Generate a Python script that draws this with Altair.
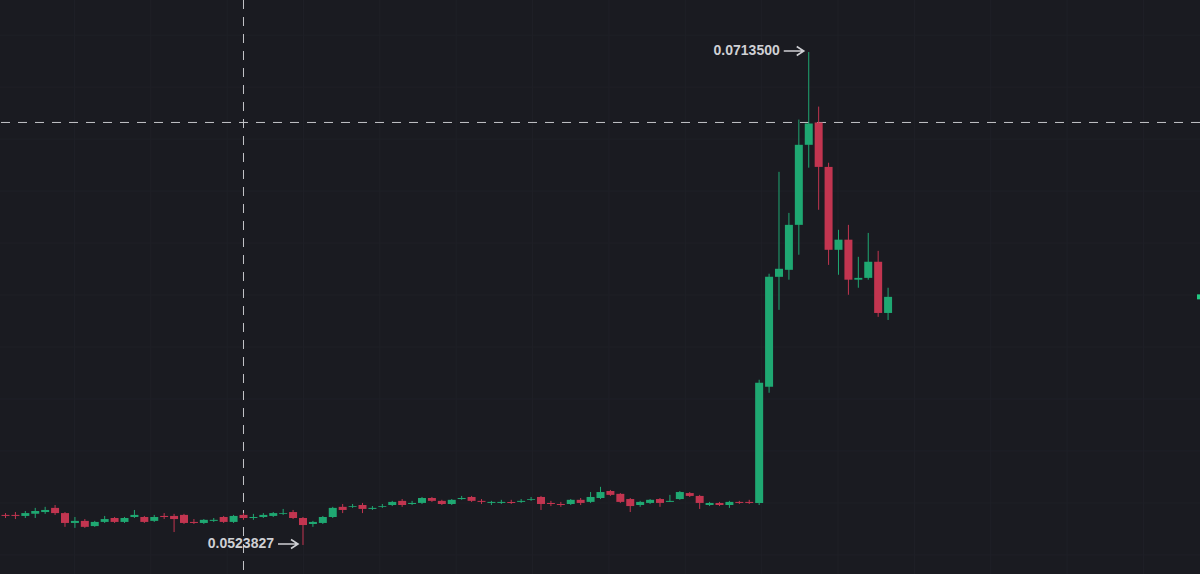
import altair as alt
import pandas as pd

# Candle OHLC series (one candle per period, oldest first)
opens = [
    0.05354, 0.05354, 0.05350, 0.05358, 0.05365, 0.05381, 0.05361, 0.05323, 0.05331, 0.05311,
    0.05327, 0.05342, 0.05327, 0.05346, 0.05346, 0.05331, 0.05350, 0.05350, 0.05354, 0.05327,
    0.05323, 0.05331, 0.05346, 0.05327, 0.05354, 0.05342, 0.05346, 0.05350, 0.05358, 0.05365,
    0.05342, 0.05319, 0.05323, 0.05346, 0.05385, 0.05385, 0.05392, 0.05377, 0.05385, 0.05392,
    0.05408, 0.05396, 0.05400, 0.05419, 0.05408, 0.05396, 0.05415, 0.05423, 0.05408, 0.05400,
    0.05400, 0.05404, 0.05404, 0.05412, 0.05423, 0.05400, 0.05396, 0.05396, 0.05412, 0.05404,
    0.05419, 0.05446, 0.05435, 0.05415, 0.05392, 0.05400, 0.05415, 0.05404, 0.05415, 0.05438,
    0.05427, 0.05392, 0.05400, 0.05392, 0.05404, 0.05404, 0.05400, 0.05847, 0.06270, 0.06297,
    0.06470, 0.06778, 0.06864, 0.06693, 0.06374, 0.06413, 0.06259, 0.06266, 0.06328, 0.06131,
]
closes = [
    0.05350, 0.05350, 0.05361, 0.05369, 0.05373, 0.05361, 0.05323, 0.05331, 0.05308, 0.05327,
    0.05338, 0.05327, 0.05342, 0.05354, 0.05327, 0.05346, 0.05346, 0.05338, 0.05323, 0.05323,
    0.05335, 0.05335, 0.05327, 0.05350, 0.05342, 0.05346, 0.05354, 0.05361, 0.05361, 0.05342,
    0.05315, 0.05327, 0.05346, 0.05381, 0.05373, 0.05388, 0.05377, 0.05381, 0.05388, 0.05404,
    0.05392, 0.05400, 0.05419, 0.05408, 0.05396, 0.05412, 0.05419, 0.05408, 0.05404, 0.05404,
    0.05404, 0.05400, 0.05408, 0.05415, 0.05396, 0.05396, 0.05392, 0.05412, 0.05400, 0.05423,
    0.05442, 0.05431, 0.05404, 0.05388, 0.05404, 0.05412, 0.05400, 0.05408, 0.05442, 0.05427,
    0.05400, 0.05400, 0.05392, 0.05404, 0.05400, 0.05400, 0.05862, 0.06270, 0.06301, 0.06470,
    0.06778, 0.06860, 0.06693, 0.06374, 0.06413, 0.06259, 0.06266, 0.06328, 0.06131, 0.06193,
]
highs = [
    0.05361, 0.05365, 0.05369, 0.05381, 0.05385, 0.05392, 0.05365, 0.05346, 0.05338, 0.05331,
    0.05350, 0.05346, 0.05346, 0.05373, 0.05350, 0.05354, 0.05361, 0.05358, 0.05358, 0.05338,
    0.05338, 0.05342, 0.05350, 0.05354, 0.05361, 0.05358, 0.05361, 0.05365, 0.05377, 0.05373,
    0.05346, 0.05331, 0.05350, 0.05385, 0.05396, 0.05396, 0.05400, 0.05388, 0.05396, 0.05408,
    0.05415, 0.05408, 0.05423, 0.05423, 0.05412, 0.05415, 0.05427, 0.05427, 0.05415, 0.05408,
    0.05412, 0.05412, 0.05415, 0.05423, 0.05427, 0.05408, 0.05404, 0.05415, 0.05419, 0.05442,
    0.05462, 0.05450, 0.05438, 0.05419, 0.05408, 0.05415, 0.05419, 0.05431, 0.05446, 0.05442,
    0.05431, 0.05404, 0.05404, 0.05408, 0.05408, 0.05412, 0.05874, 0.06282, 0.06674, 0.06516,
    0.06875, 0.07135, 0.06925, 0.06709, 0.06451, 0.06470, 0.06347, 0.06439, 0.06370, 0.06228,
]
lows = [
    0.05342, 0.05338, 0.05342, 0.05342, 0.05358, 0.05354, 0.05308, 0.05304, 0.05304, 0.05308,
    0.05323, 0.05323, 0.05323, 0.05342, 0.05323, 0.05327, 0.05338, 0.05288, 0.05319, 0.05319,
    0.05319, 0.05327, 0.05323, 0.05323, 0.05335, 0.05335, 0.05342, 0.05346, 0.05354, 0.05338,
    0.0523827, 0.05308, 0.05319, 0.05342, 0.05361, 0.05381, 0.05361, 0.05373, 0.05381, 0.05388,
    0.05385, 0.05392, 0.05396, 0.05404, 0.05392, 0.05392, 0.05412, 0.05404, 0.05396, 0.05392,
    0.05396, 0.05396, 0.05400, 0.05408, 0.05373, 0.05388, 0.05385, 0.05392, 0.05392, 0.05400,
    0.05415, 0.05427, 0.05400, 0.05365, 0.05385, 0.05396, 0.05385, 0.05404, 0.05412, 0.05423,
    0.05377, 0.05388, 0.05388, 0.05381, 0.05396, 0.05396, 0.05392, 0.05824, 0.06143, 0.06259,
    0.06355, 0.06690, 0.06528, 0.06316, 0.06278, 0.06201, 0.06228, 0.06259, 0.06116, 0.06104,
]

# Price grid levels and time grid positions (in candle units)
price_grid = [0.052, 0.054, 0.056, 0.058, 0.060, 0.062, 0.064, 0.066, 0.068, 0.070, 0.072]
time_grid = [6.95, 14.65, 22.35, 30.05, 37.75, 45.45, 53.15, 60.85, 68.55, 76.25,
             83.95, 91.65, 99.35, 107.05, 114.75]

# Crosshair position: candle index and price level
cross_index = 24
cross_price = 0.06864

BG = "#1a1b21"
GRID = "#1f2027"
UP = "#22c983"
UP_WICK = "#1fa872"
DOWN = "#dc3a55"
DOWN_WICK = "#c23550"
LABEL = "#cfd0d4"

n = len(opens)
df = pd.DataFrame({
    "i": list(range(n)),
    "open": opens,
    "close": closes,
    "high": highs,
    "low": lows,
})
df["dir"] = ["up" if c >= o else "down" for o, c in zip(opens, closes)]

x_scale = alt.Scale(domain=[-0.05, 119.95], nice=False, zero=False)
y_scale = alt.Scale(domain=[0.051266, 0.073352], nice=False, zero=False)
body_color = alt.Color("dir:N", scale=alt.Scale(domain=["up", "down"], range=[UP, DOWN]), legend=None)
wick_color = alt.Color("dir:N", scale=alt.Scale(domain=["up", "down"], range=[UP_WICK, DOWN_WICK]), legend=None)

X = lambda f: alt.X(f, type="quantitative", scale=x_scale, axis=None)
Y = lambda f: alt.Y(f, type="quantitative", scale=y_scale, axis=None)

hgrid = alt.Chart(pd.DataFrame({"p": price_grid})).mark_rule(
    color=GRID, strokeWidth=1
).encode(y=Y("p"))

vgrid = alt.Chart(pd.DataFrame({"t": time_grid})).mark_rule(
    color=GRID, strokeWidth=1
).encode(x=X("t"))

base = alt.Chart(df)
wicks = base.mark_rule(strokeWidth=1).encode(
    x=X("i"), y=Y("low"), y2="high", color=wick_color
)
bodies = base.mark_bar(size=8).encode(
    x=X("i"), y=Y("open"), y2="close", color=body_color
)

cross_v = alt.Chart(pd.DataFrame({"t": [cross_index]})).mark_rule(
    color="#c4c5c9", strokeWidth=1, strokeDash=[9, 8]
).encode(x=X("t"))
cross_h = alt.Chart(pd.DataFrame({"p": [cross_price]})).mark_rule(
    color="#c4c5c9", strokeWidth=1, strokeDash=[9, 8]
).encode(y=Y("p"))

# Extremes: highest high and lowest low, labelled with an arrow
hi_i = max(range(n), key=lambda k: highs[k])
lo_i = min(range(n), key=lambda k: lows[k])
ext = pd.DataFrame({
    "i": [hi_i, lo_i],
    "p": [highs[hi_i], lows[lo_i]],
    "label": [f"{highs[hi_i]:.7f}", f"{lows[lo_i]:.7f}"],
})
ext_chart = alt.Chart(ext)
arrows = ext_chart.mark_point(
    shape="M-1,0L1,0M0.3,-0.45L1,0L0.3,0.45",
    filled=False, size=400, strokeWidth=1.6, color=LABEL, opacity=1,
    xOffset=-15, yOffset=-1,
).encode(x=X("i"), y=Y("p"))
labels = ext_chart.mark_text(
    align="right", baseline="middle", dx=-29, dy=-1,
    font="Liberation Sans", fontSize=14, fontWeight="bold", color=LABEL,
).encode(x=X("i"), y=Y("p"), text="label:N")

# Last-price marker peeking in at the right edge
last = pd.DataFrame({"p": [closes[-1]]})
last_mark = alt.Chart(last).mark_rule(color=UP, strokeWidth=5).encode(
    x=alt.value(1197), x2=alt.value(1200), y=Y("p")
)

chart = alt.layer(
    hgrid, vgrid, cross_v, cross_h, wicks, bodies, arrows, labels, last_mark
).properties(
    width=1200, height=574, background=BG, padding=0,
    autosize=alt.AutoSizeParams(type="none"),
).configure_view(stroke=None, fill=BG)

chart.save("out.html", embed_options={"renderer": "svg", "actions": False})
